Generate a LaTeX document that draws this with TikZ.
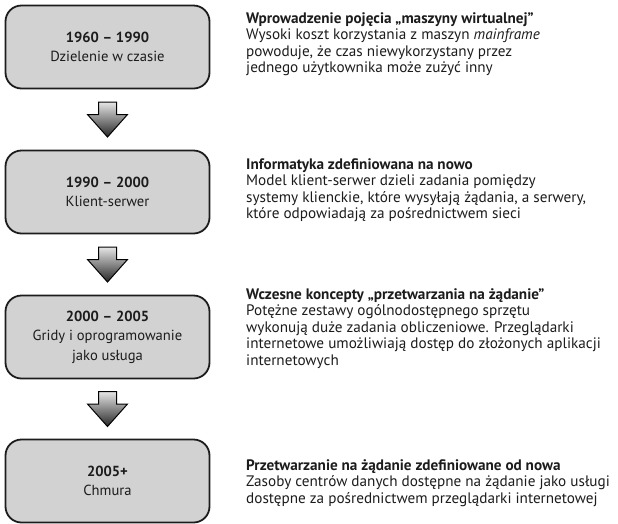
\documentclass[tikz,border=0pt]{standalone}
\usepackage{fontspec}
\setmainfont{PT Sans}
\usepackage{tikz}
\usetikzlibrary{calc,positioning}

\definecolor{boxgray}{HTML}{D2D2D2}
\definecolor{ink}{HTML}{1C1C1C}

\begin{document}
\begin{tikzpicture}[x=1pt,y=-1pt,every node/.style={text=ink},
  era/.style={draw=ink,line width=1.8pt,rounded corners=16pt,fill=boxgray,minimum width=204pt,minimum height=83pt,align=center,font=\fontsize{14.6}{19.5}\selectfont,inner sep=0pt},
  desc/.style={anchor=north west,align=left,inner sep=0pt,font=\fontsize{15.2}{16.6}\selectfont},
  blk/.style={draw=black,line width=1pt,top color=black!10,bottom color=black!85}]
\useasboundingbox (0,0) rectangle (618,523);
% boxes
\node[era] (e1) at (107.5,47) {\textbf{1960 -- 1990}\\Dzielenie w czasie};
\node[era] (e2) at (107.5,192) {\textbf{1990 -- 2000}\\Klient-serwer};
\node[era] (e3) at (107.5,337) {\textbf{2000 -- 2005}\\Gridy i oprogramowanie\\jako usługa};
\node[era] (e4) at (107.5,481) {\textbf{2005+}\\Chmura};
% block arrows
\foreach \a/\b in {e1/e2,e2/e3,e3/e4}{
  \coordinate (m) at ($(\a.south)!0.5!(\b.north)$);
  \shade[blk] ($(m)+(-9,-17.5)$) -- ($(m)+(9,-17.5)$) -- ($(m)+(9,-5)$) -- ($(m)+(20,-5)$)
    -- ($(m)+(0,17.5)$) -- ($(m)+(-20,-5)$) -- ($(m)+(-9,-5)$) -- cycle;
}
% descriptions
\node[desc] (d1) at (246,12) {\textbf{Wprowadzenie pojęcia „maszyny wirtualnej”}\\
  Wysoki koszt korzystania z maszyn \textit{mainframe}\\
  powoduje, że czas niewykorzystany przez\\
  jednego użytkownika może zużyć inny};
\node[desc] (d2) at (246,158) {\textbf{Informatyka zdefiniowana na nowo}\\
  Model klient-serwer dzieli zadania pomiędzy\\
  systemy klienckie, które wysyłają żądania, a serwery,\\
  które odpowiadają za pośrednictwem sieci};
\node[desc] (d3) at (246,288) {\textbf{Wczesne koncepty „przetwarzania na żądanie”}\\
  Potężne zestawy ogólnodostępnego sprzętu\\
  wykonują duże zadania obliczeniowe. Przeglądarki\\
  internetowe umożliwiają dostęp do złożonych aplikacji\\
  internetowych};
\node[desc] (d4) at (246,459) {\textbf{Przetwarzanie na żądanie zdefiniowane od nowa}\\
  Zasoby centrów danych dostępne na żądanie jako usługi\\
  dostępne za pośrednictwem przeglądarki internetowej};
\end{tikzpicture}
\end{document}
